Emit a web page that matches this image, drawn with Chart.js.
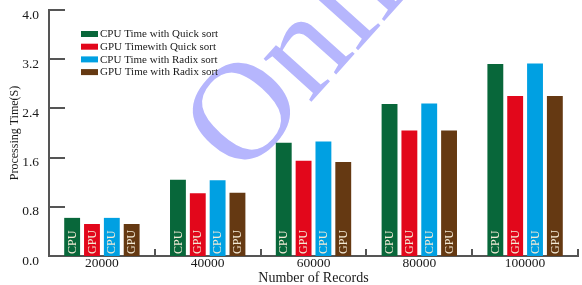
<!DOCTYPE html>
<html>
<head>
<meta charset="utf-8">
<script src="https://cdn.jsdelivr.net/npm/chart.js@4.4.0/dist/chart.umd.min.js"></script>
<style>
  html, body { margin: 0; padding: 0; background: #fff; }
  #wrap { width: 582px; height: 285px; position: relative; }
</style>
</head>
<body>
<div id="wrap"><canvas id="sortChart"></canvas></div>
<script>
// данные с картинки
const categories = ['20000', '40000', '60000', '80000', '100000'];
const cpuQuick = [0.62, 1.24, 1.84, 2.47, 3.12];
const gpuQuick = [0.52, 1.02, 1.55, 2.04, 2.60];
const cpuRadix = [0.62, 1.23, 1.86, 2.48, 3.13];
const gpuRadix = [0.52, 1.03, 1.53, 2.04, 2.60];
const seriesLabels = [
  'CPU Time with Quick sort',
  'GPU Timewith Quick sort',
  'CPU Time with Radix sort',
  'GPU Time with Radix sort'
];
const barTags = ['CPU', 'GPU', 'CPU', 'GPU'];
const yTicks = [0, 0.8, 1.6, 2.4, 3.2, 4.0];

const colors = ['#08673a', '#e2071b', '#00a0e2', '#653912'];
const serif = '"Liberation Serif", "DejaVu Serif", serif';
const axisColor = '#555';
const textColor = '#1a1a1a';

// водяной знак
const watermark = {
  id: 'watermark',
  beforeDatasetsDraw(chart) {
    const ctx = chart.ctx;
    ctx.save();
    ctx.translate(240, 110);
    ctx.rotate(-48 * Math.PI / 180);
    ctx.font = '140px ' + serif;
    ctx.fillStyle = '#b6b6fd';
    ctx.textBaseline = 'alphabetic';
    ctx.textAlign = 'left';
    ctx.fillText('Online', -0.36 * 140, 0.34 * 140);
    ctx.restore();
  }
};

// внутренние засечки осей
const innerTicks = {
  id: 'innerTicks',
  afterDatasetsDraw(chart) {
    const ctx = chart.ctx;
    const x = chart.scales.x, y = chart.scales.y;
    const area = chart.chartArea;
    const step = x.getPixelForValue(1) - x.getPixelForValue(0);
    ctx.save();
    ctx.strokeStyle = axisColor;
    ctx.lineWidth = 2;
    ctx.beginPath();
    yTicks.forEach(v => {
      if (v === 0) return;
      const py = Math.round(y.getPixelForValue(v));
      ctx.moveTo(area.left, py);
      ctx.lineTo(area.left + 16, py);
    });
    categories.forEach((c, i) => {
      const px = Math.round(x.getPixelForValue(i) + step / 2);
      ctx.moveTo(px, area.bottom);
      ctx.lineTo(px, area.bottom - 7);
    });
    ctx.stroke();
    ctx.restore();
  }
};

// подписи CPU / GPU внутри столбцов
const tagPlugin = {
  id: 'tags',
  afterDatasetsDraw(chart) {
    const ctx = chart.ctx;
    ctx.save();
    ctx.font = '12px ' + serif;
    ctx.fillStyle = '#f3ead6';
    ctx.textAlign = 'left';
    ctx.textBaseline = 'middle';
    chart.data.datasets.forEach((ds, di) => {
      chart.getDatasetMeta(di).data.forEach(bar => {
        ctx.save();
        ctx.translate(bar.x + 0.5, bar.base - 2);
        ctx.rotate(-Math.PI / 2);
        ctx.fillText(barTags[di], 0, 0);
        ctx.restore();
      });
    });
    ctx.restore();
  }
};

// легенда внутри области графика
const boxLegend = {
  id: 'boxLegend',
  afterDraw(chart) {
    const ctx = chart.ctx;
    ctx.save();
    ctx.font = '11px ' + serif;
    ctx.textBaseline = 'middle';
    ctx.textAlign = 'left';
    chart.data.datasets.forEach((ds, i) => {
      const cy = 34 + i * 12.7;
      ctx.fillStyle = ds.backgroundColor;
      ctx.fillRect(81, cy - 3, 17, 6);
      ctx.fillStyle = textColor;
      ctx.fillText(ds.label, 100, cy + 0.5);
    });
    ctx.restore();
  }
};

const seriesValues = [cpuQuick, gpuQuick, cpuRadix, gpuRadix];

new Chart(document.getElementById('sortChart'), {
  type: 'bar',
  data: {
    labels: categories,
    datasets: seriesValues.map((vals, i) => ({
      label: seriesLabels[i],
      data: vals,
      backgroundColor: colors[i],
      borderWidth: 0,
      categoryPercentage: 0.75,
      barPercentage: 0.8
    }))
  },
  options: {
    responsive: true,
    maintainAspectRatio: false,
    animation: false,
    layout: { padding: { top: 10, right: 4, left: 0, bottom: 0 } },
    plugins: {
      legend: { display: false },
      tooltip: { enabled: false }
    },
    scales: {
      x: {
        grid: { display: false, drawTicks: false },
        border: { display: true, color: axisColor, width: 2 },
        ticks: { color: textColor, font: { family: serif, size: 13.5 }, padding: -1 },
        title: {
          display: true,
          text: 'Number of Records',
          color: textColor,
          font: { family: serif, size: 14 },
          padding: { top: 0, bottom: -2 }
        },
        afterFit(scale) {
          scale.height = 29;
          scale.paddingLeft = 0;
          scale.paddingRight = 0;
        }
      },
      y: {
        min: 0,
        max: 4,
        afterBuildTicks(scale) { scale.ticks = yTicks.map(v => ({ value: v })); },
        grid: { display: false, drawTicks: false },
        border: { display: true, color: axisColor, width: 2 },
        ticks: {
          color: textColor,
          font: { family: serif, size: 13.5 },
          padding: 10,
          labelOffset: 5,
          callback: v => Number(v).toFixed(1)
        },
        title: {
          display: true,
          text: 'Processing Time(S)',
          color: textColor,
          font: { family: serif, size: 12 },
          padding: { top: 8, bottom: 0 }
        },
        afterFit(scale) {
          scale.width = 49;
          scale.paddingTop = 0;
          scale.paddingBottom = 0;
        }
      }
    }
  },
  plugins: [watermark, innerTicks, tagPlugin, boxLegend]
});
</script>
</body>
</html>
